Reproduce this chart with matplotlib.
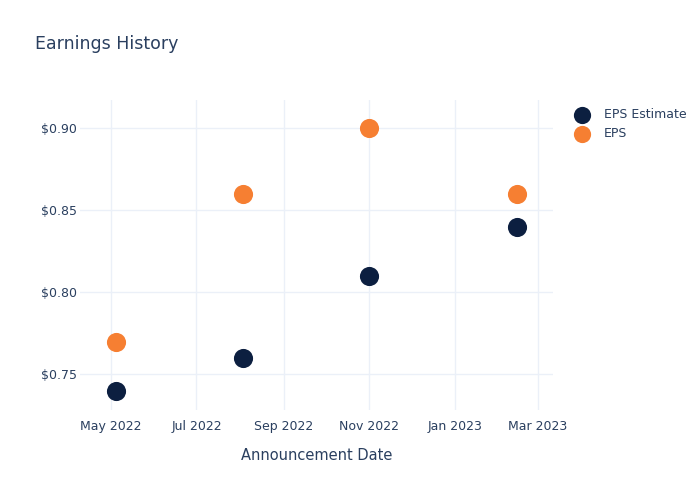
import matplotlib
matplotlib.use("Agg")
import matplotlib.pyplot as plt
import matplotlib.dates as mdates
from matplotlib.ticker import FuncFormatter
import pandas as pd

# 数据
dates = pd.to_datetime(["2022-05-05", "2022-08-03", "2022-11-01", "2023-02-14"])
eps_estimate = [0.74, 0.76, 0.81, 0.84]
eps_actual = [0.77, 0.86, 0.90, 0.86]
tick_dates = pd.to_datetime(["2022-05-01", "2022-07-01", "2022-09-01",
                             "2022-11-01", "2023-01-01", "2023-03-01"])
y_ticks = [0.75, 0.80, 0.85, 0.90]

text_color = "#2a3f5f"
grid_color = "#ebf0f8"
navy = "#0c1f40"
orange = "#f67f32"

plt.rcParams["font.family"] = ["DejaVu Sans"]

fig = plt.figure(figsize=(7, 5), dpi=100)
ax = fig.add_axes([80 / 700, 1 - 410 / 500, (553 - 80) / 700, (410 - 100) / 500])

ax.scatter(dates, eps_estimate, s=190, color=navy, label="EPS Estimate", zorder=3, linewidths=0)
ax.scatter(dates, eps_actual, s=190, color=orange, label="EPS", zorder=3, linewidths=0)

ax.set_xlim(pd.Timestamp("2022-04-09"), pd.Timestamp("2023-03-12"))
ax.set_ylim(0.7283, 0.9173)

ax.set_xticks(tick_dates)
ax.xaxis.set_major_formatter(mdates.DateFormatter("%b %Y"))
ax.set_yticks(y_ticks)
ax.yaxis.set_major_formatter(FuncFormatter(lambda v, p: f"${v:.2f}"))

ax.grid(True, color=grid_color, linewidth=1)
ax.set_axisbelow(True)
for s in ax.spines.values():
    s.set_visible(False)
ax.tick_params(length=0, colors=text_color, labelsize=9)
ax.tick_params(axis="x", pad=7)
ax.tick_params(axis="y", pad=2)

ax.set_xlabel("Announcement Date", color=text_color, fontsize=10.5, labelpad=11)

fig.text(35 / 700, 1 - 44 / 500, "Earnings History", color=text_color,
         fontsize=12.5, va="center", ha="left")

leg = ax.legend(loc="upper left", bbox_to_anchor=(1.025, 0.99), frameon=False,
                fontsize=9, labelcolor=text_color, handletextpad=0.75,
                markerscale=0.9, borderaxespad=0, labelspacing=0.5)

fig.savefig("out.png", dpi=100)
